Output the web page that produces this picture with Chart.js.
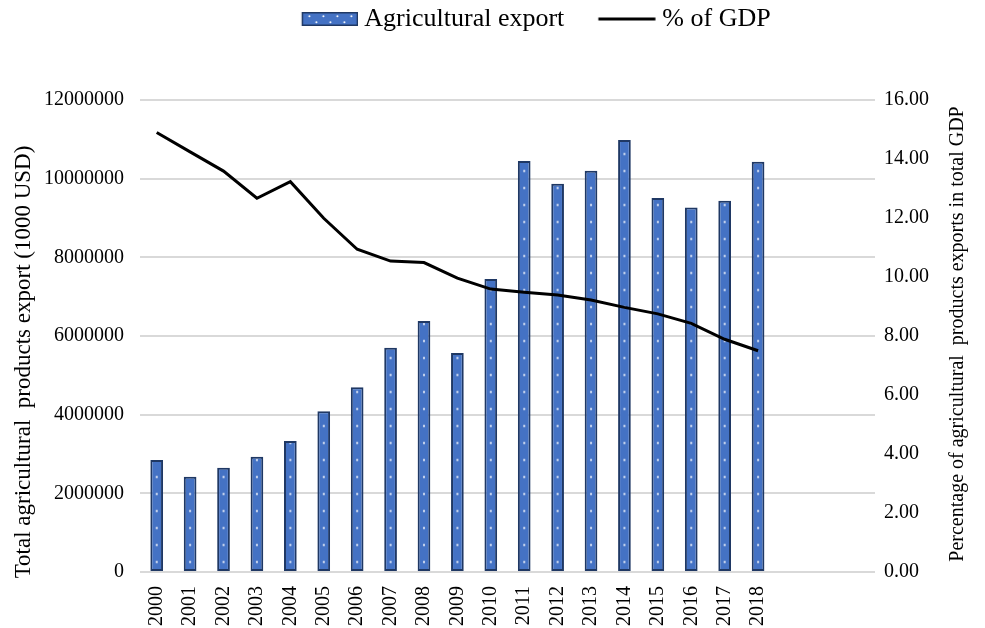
<!DOCTYPE html>
<html>
<head>
<meta charset="utf-8">
<script src="https://cdn.jsdelivr.net/npm/chart.js@4"></script>
<style>
  html, body { margin: 0; padding: 0; background: #fff; }
  #wrap { width: 985px; height: 628px; }
</style>
</head>
<body>
<div id="wrap"><canvas id="c" width="985" height="628"></canvas></div>
<script>
// ---- data ----
const years = ['2000','2001','2002','2003','2004','2005','2006','2007','2008','2009','2010','2011','2012','2013','2014','2015','2016','2017','2018','','',''];
const exportValues = [2850000, 2420000, 2650000, 2930000, 3330000, 4090000, 4700000, 5700000, 6380000, 5570000, 7450000, 10450000, 9870000, 10200000, 10980000, 9510000, 9270000, 9440000, 10430000, null, null, null];
const gdpShare = [14.90, 14.24, 13.59, 12.67, 13.23, 11.99, 10.94, 10.54, 10.49, 9.96, 9.59, 9.48, 9.39, 9.22, 8.97, 8.75, 8.43, 7.89, 7.50, null, null, null];
const leftTicks = [0, 2000000, 4000000, 6000000, 8000000, 10000000, 12000000];
const rightTicks = [0, 2, 4, 6, 8, 10, 12, 14, 16];
const seriesNames = ['Agricultural export', '% of GDP'];
const leftTitle = 'Total agricultural  products export (1000 USD)';
const rightTitle = 'Percentage of agricultural  products exports in total GDP';

const FONT = "'Liberation Serif', 'Times New Roman', serif";
const BAR_FILL = '#4472C4';
const BAR_EDGE = '#1F3864';

const canvas = document.getElementById('c');
const ctx2d = canvas.getContext('2d');

function makeTile(w, h, dx, dy) {
  const c = document.createElement('canvas');
  c.width = w; c.height = h;
  const g = c.getContext('2d');
  g.fillStyle = BAR_FILL;
  g.fillRect(0, 0, w, h);
  g.fillStyle = '#ffffff';
  g.beginPath();
  g.arc(dx, dy, 1.1, 0, Math.PI * 2);
  g.fill();
  return c;
}
const barTile = makeTile(40, 17, 20, 8.5);

// legend glyphs (images used as point styles)
function legendBoxImage() {
  const c = document.createElement('canvas');
  c.width = 92; c.height = 14;
  const g = c.getContext('2d');
  const x0 = 36.5, w = 55, y0 = 0.75, h = 12.5;
  g.fillStyle = BAR_FILL;
  g.fillRect(x0, y0, w, h);
  g.fillStyle = '#ffffff';
  for (let r = 0; r < 2; r++) {
    for (let k = 0; k < 4; k++) {
      g.beginPath();
      g.arc(x0 + 7 + k * 14 + (r ? 7 : 0), y0 + 3.5 + r * 6, 1.0, 0, Math.PI * 2);
      g.fill();
    }
  }
  g.strokeStyle = BAR_EDGE;
  g.lineWidth = 1.5;
  g.strokeRect(x0, y0, w, h);
  return c;
}
function legendLineImage() {
  const c = document.createElement('canvas');
  c.width = 92; c.height = 4;
  const g = c.getContext('2d');
  g.strokeStyle = '#000';
  g.lineWidth = 3;
  g.beginPath();
  g.moveTo(34.5, 2);
  g.lineTo(91.5, 2);
  g.stroke();
  return c;
}
const boxImg = legendBoxImage();
const lineImg = legendLineImage();

function barPattern(context) {
  const ch = context.chart;
  if (context.type !== 'data' || !ch.scales || !ch.scales.x || !ch.scales.y) return BAR_FILL;
  const cx = ch.scales.x.getPixelForValue(context.dataIndex);
  const y0 = ch.scales.y.getPixelForValue(0) - 10;
  const p = ctx2d.createPattern(barTile, 'repeat');
  p.setTransform(new DOMMatrix().translate(cx - 20, y0 - 8.5));
  return p;
}

const LEGEND_LEFT = 58;

const layoutPlugin = {
  id: 'layoutFix',
  beforeInit(chart) {
    const lg = chart.legend;
    if (lg) {
      const orig = lg.fit;
      lg.fit = function () { orig.call(this); this.height = 100; };
    }
  },
  afterLayout(chart) {
    const lg = chart.legend;
    if (lg) {
      const r = lg.right;
      lg.left = LEGEND_LEFT;
      lg.width = r - LEGEND_LEFT;
      lg.right = r;
    }
  },
  afterDraw(chart) {
    const c = chart.ctx;
    c.save();
    c.fillStyle = '#000';
    c.textAlign = 'center';
    c.textBaseline = 'middle';
    c.save();
    c.font = '23px ' + FONT;
    c.translate(24, 362);
    c.rotate(-Math.PI / 2);
    c.fillText(leftTitle, 0, 0);
    c.restore();
    c.save();
    c.font = '20px ' + FONT;
    c.translate(958, 334);
    c.rotate(-Math.PI / 2);
    c.fillText(rightTitle, 0, 0);
    c.restore();
    c.restore();
  }
};

new Chart(canvas, {
  data: {
    labels: years,
    datasets: [
      {
        type: 'line',
        label: seriesNames[1],
        data: gdpShare,
        yAxisID: 'y1',
        borderColor: '#000',
        backgroundColor: '#000',
        borderWidth: 3,
        pointRadius: 0,
        tension: 0,
        order: 0
      },
      {
        type: 'bar',
        label: seriesNames[0],
        data: exportValues,
        yAxisID: 'y',
        backgroundColor: barPattern,
        borderColor: BAR_EDGE,
        borderWidth: 2,
        borderSkipped: false,
        categoryPercentage: 0.38,
        barPercentage: 1,
        order: 1
      }
    ]
  },
  options: {
    responsive: false,
    animation: false,
    devicePixelRatio: 1,
    layout: { padding: 0 },
    plugins: {
      tooltip: { enabled: false },
      legend: {
        position: 'top',
        reverse: true,
        labels: {
          font: { family: FONT, size: 26 },
          color: '#000',
          usePointStyle: true,
          pointStyleWidth: 79,
          boxHeight: 14,
          padding: 6,
          generateLabels(chart) {
            return chart.data.datasets.map((ds, i) => {
              const isBar = ds.type === 'bar';
              return {
                text: ds.label,
                datasetIndex: i,
                hidden: false,
                pointStyle: isBar ? boxImg : lineImg,
                fillStyle: isBar ? BAR_FILL : '#000',
                strokeStyle: isBar ? BAR_EDGE : '#000',
                lineWidth: 0,
                fontColor: '#000'
              };
            });
          }
        }
      }
    },
    scales: {
      x: {
        offset: true,
        grid: { display: false },
        border: { display: false },
        ticks: {
          font: { family: FONT, size: 20 },
          color: '#000',
          minRotation: 90,
          maxRotation: 90,
          autoSkip: false,
          padding: 6
        },
        afterFit(s) { s.height = 56; }
      },
      y: {
        position: 'left',
        min: 0,
        max: 12000000,
        afterBuildTicks(s) { s.ticks = leftTicks.map(v => ({ value: v })); },
        grid: { color: '#d9d9d9', lineWidth: 2, drawTicks: false },
        border: { display: false },
        ticks: {
          font: { family: FONT, size: 20 },
          color: '#000',
          padding: 16,
          callback: v => String(v)
        },
        afterFit(s) { s.width = 140; }
      },
      y1: {
        position: 'right',
        min: 0,
        max: 16,
        afterBuildTicks(s) { s.ticks = rightTicks.map(v => ({ value: v })); },
        grid: { display: false, drawTicks: false },
        border: { display: false },
        ticks: {
          font: { family: FONT, size: 20 },
          color: '#000',
          padding: 9,
          callback: v => Number(v).toFixed(2)
        },
        afterFit(s) { s.width = 110; }
      }
    }
  },
  plugins: [layoutPlugin]
});
</script>
</body>
</html>
